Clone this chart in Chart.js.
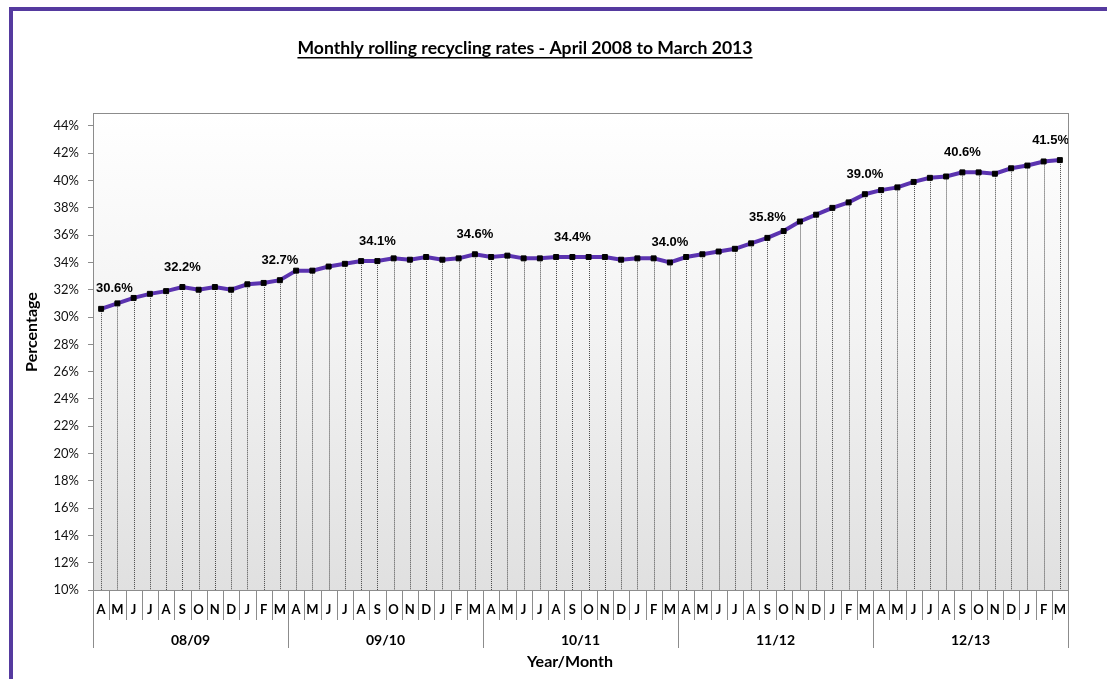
<!DOCTYPE html>
<html><head><meta charset="utf-8">
<script src="https://cdn.jsdelivr.net/npm/chart.js@4.4.1/dist/chart.umd.min.js"></script>
<style>
html,body{margin:0;padding:0;background:#fff;overflow:hidden}
#frame{position:absolute;left:9px;top:7px;width:1200px;height:800px;border-left:4px solid #553a9f;border-top:4px solid #553a9f}
#c{position:absolute;left:0;top:0}
</style></head><body>
<div id="frame"></div>
<canvas id="c" width="1107" height="679"></canvas>
<script>
const months = ['A','M','J','J','A','S','O','N','D','J','F','M'];
const years = ['08/09','09/10','10/11','11/12','12/13'];
const rates = [
  30.6, 31.0, 31.4, 31.7, 31.9, 32.2, 32.0, 32.2, 32.0, 32.4, 32.5, 32.7,
  33.4, 33.4, 33.7, 33.9, 34.1, 34.1, 34.3, 34.2, 34.4, 34.2, 34.3, 34.6,
  34.4, 34.5, 34.3, 34.3, 34.4, 34.4, 34.4, 34.4, 34.2, 34.3, 34.3, 34.0,
  34.4, 34.6, 34.8, 35.0, 35.4, 35.8, 36.3, 37.0, 37.5, 38.0, 38.4, 39.0,
  39.3, 39.5, 39.9, 40.2, 40.3, 40.6, 40.6, 40.5, 40.9, 41.1, 41.4, 41.5
];
const labelledPoints = [0, 5, 11, 17, 23, 29, 35, 41, 47, 53, 59];
const yTickValues = [10, 12, 14, 16, 18, 20, 22, 24, 26, 28, 30, 32, 34, 36, 38, 40, 42, 44];
const chartTitle = 'Monthly rolling recycling rates - April 2008 to March 2013';
const xTitle = 'Year/Month';
const yTitle = 'Percentage';

const categories = years.flatMap(y => months.map(m => m + ' ' + y));

const FONT = 'Lato, "Open Sans", sans-serif';

const decor = {
  id: 'decor',
  beforeDraw(chart) {
    const {ctx, chartArea: a} = chart;
    const g = ctx.createLinearGradient(0, a.top, 0, a.bottom);
    g.addColorStop(0, '#ffffff');
    g.addColorStop(0.45, '#f3f3f3');
    g.addColorStop(1, '#e0e0e0');
    ctx.save();
    ctx.fillStyle = g;
    ctx.fillRect(a.left, a.top, a.right - a.left, a.bottom - a.top);
    ctx.restore();
  },
  beforeDatasetsDraw(chart) {
    const {ctx, chartArea: a} = chart;
    const meta = chart.getDatasetMeta(0);
    ctx.save();
    ctx.strokeStyle = '#4a4a4a';
    ctx.lineWidth = 1;
    ctx.setLineDash([1, 1]);
    meta.data.forEach(p => {
      const x = Math.round(p.x) + 0.5;
      ctx.beginPath();
      ctx.moveTo(x, p.y);
      ctx.lineTo(x, a.bottom);
      ctx.stroke();
    });
    ctx.restore();
  },
  afterDatasetsDraw(chart) {
    const {ctx, chartArea: a} = chart;
    const meta = chart.getDatasetMeta(0);
    ctx.save();
    ctx.font = 'bold 13px "Liberation Sans", Arial, sans-serif';
    ctx.fillStyle = '#000';
    ctx.textAlign = 'center';
    ctx.textBaseline = 'middle';
    labelledPoints.forEach(i => {
      const p = meta.data[i];
      const txt = rates[i].toFixed(1) + '%';
      const w = ctx.measureText(txt).width;
      let cx = p.x;
      if (cx - w / 2 < a.left + 3) cx = a.left + 3 + w / 2;
      if (cx + w / 2 > a.right + 1) cx = a.right + 1 - w / 2;
      ctx.fillText(txt, cx, p.y - 20);
    });
    ctx.restore();
  },
  afterDraw(chart) {
    const {ctx, chartArea: a} = chart;
    const xs = chart.scales.x;
    ctx.save();
    ctx.strokeStyle = '#8c8c8c';
    ctx.lineWidth = 1;
    ctx.strokeRect(Math.round(a.left) + 0.5, Math.round(a.top) + 0.5,
                   Math.round(a.right - a.left), Math.round(a.bottom - a.top));
    const n = rates.length;
    const cw = (a.right - a.left) / n;
    const b = Math.round(a.bottom);
    for (let i = 0; i <= n; i++) {
      const center = i < n ? xs.getPixelForValue(i) : xs.getPixelForValue(n - 1) + cw;
      const x = Math.round(center - cw / 2) + 0.5;
      ctx.beginPath();
      ctx.moveTo(x, b);
      ctx.lineTo(x, b + (i % 12 === 0 ? 58 : 30));
      ctx.stroke();
    }
    ctx.fillStyle = '#000';
    ctx.textAlign = 'center';
    ctx.textBaseline = 'middle';
    ctx.font = 'bold 13px ' + FONT;
    for (let i = 0; i < n; i++) {
      ctx.fillText(months[i % 12], xs.getPixelForValue(i), b + 20);
    }
    ctx.font = 'bold 14px ' + FONT;
    years.forEach((y, k) => {
      const x0 = xs.getPixelForValue(k * 12) - cw / 2;
      ctx.fillText(y, x0 + cw * 6, b + 50);
    });
    ctx.font = 'bold 16px ' + FONT;
    ctx.fillText(xTitle, 570, 662);
    ctx.save();
    ctx.translate(32, 332);
    ctx.rotate(-Math.PI / 2);
    ctx.fillText(yTitle, 0, 0);
    ctx.restore();
    let fs = 16;
    ctx.font = 'bold ' + fs + 'px ' + FONT;
    fs = fs * 455 / ctx.measureText(chartTitle).width;
    ctx.font = 'bold ' + fs.toFixed(2) + 'px ' + FONT;
    const tw = ctx.measureText(chartTitle).width;
    ctx.textBaseline = 'alphabetic';
    ctx.fillText(chartTitle, 525, 54);
    ctx.fillRect(525 - tw / 2, 57, tw, 1.5);
    ctx.restore();
  }
};

new Chart(document.getElementById('c'), {
  type: 'line',
  data: {
    labels: categories,
    datasets: [{
      data: rates,
      borderColor: '#5b33b0',
      borderWidth: 4,
      tension: 0,
      pointStyle: 'rect',
      pointRadius: 3.5,
      pointBackgroundColor: '#000',
      pointBorderColor: '#000',
      pointBorderWidth: 1,
      fill: false
    }]
  },
  options: {
    responsive: false,
    animation: false,
    events: [],
    layout: {padding: {top: 113, right: 39, left: 0, bottom: 0}},
    plugins: {legend: {display: false}, title: {display: false}, tooltip: {enabled: false}},
    scales: {
      x: {
        type: 'category',
        offset: true,
        grid: {display: false},
        border: {display: true, color: '#8c8c8c'},
        ticks: {display: false},
        afterFit(s) { s.height = 89; }
      },
      y: {
        min: 10,
        max: 44.95,
        ticks: {
          padding: 9,
          color: '#111',
          font: {family: FONT, size: 13},
          callback: v => v + '%'
        },
        afterBuildTicks(s) {
          s.ticks = yTickValues.map(v => ({value: v}));
        },
        grid: {drawOnChartArea: false, drawTicks: true, tickLength: 5, color: '#8c8c8c'},
        border: {display: true, color: '#8c8c8c'},
        afterFit(s) { s.width = 93; }
      }
    }
  },
  plugins: [decor]
});
</script>
</body></html>
